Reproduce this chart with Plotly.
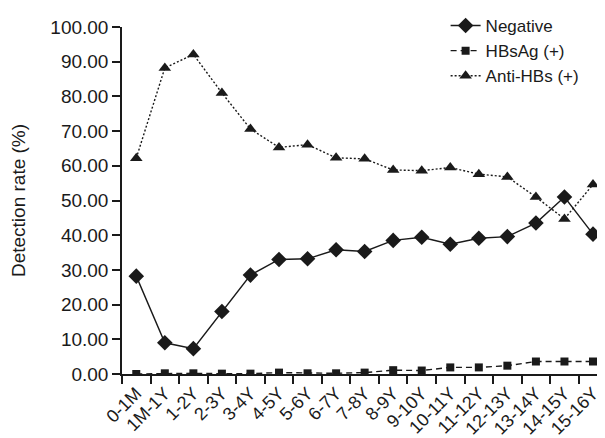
import plotly.graph_objects as go

categories = ["0-1M", "1M-1Y", "1-2Y", "2-3Y", "3-4Y", "4-5Y", "5-6Y", "6-7Y", "7-8Y",
              "8-9Y", "9-10Y", "10-11Y", "11-12Y", "12-13Y", "13-14Y", "14-15Y", "15-16Y"]
negative = [28.2, 9.0, 7.3, 18.0, 28.5, 33.0, 33.2, 35.8, 35.3, 38.5, 39.4, 37.4, 39.1, 39.6, 43.5, 51.0, 40.3]
hbsag = [0.0, 0.2, 0.2, 0.1, 0.1, 0.4, 0.2, 0.2, 0.4, 1.1, 1.0, 1.9, 1.9, 2.4, 3.6, 3.6, 3.6]
anti_hbs = [62.2, 88.2, 92.1, 81.0, 70.6, 65.3, 66.1, 62.3, 62.0, 58.8, 58.6, 59.5, 57.6, 56.8, 51.0, 44.7, 54.6]
y_ticks = [0, 10, 20, 30, 40, 50, 60, 70, 80, 90, 100]

INK = "#1a1a1a"
FONT = "Liberation Sans, Arial, sans-serif"

fig = go.Figure()
fig.add_trace(go.Scatter(x=categories, y=negative, name="Negative", mode="lines+markers",
                         line=dict(color=INK, width=1.4, dash="solid"),
                         marker=dict(symbol="diamond", size=12, color=INK)))
fig.add_trace(go.Scatter(x=categories, y=hbsag, name="HBsAg (+)", mode="lines+markers",
                         line=dict(color=INK, width=1.4, dash="6px,4px"),
                         marker=dict(symbol="square", size=8, color=INK)))
fig.add_trace(go.Scatter(x=categories, y=anti_hbs, name="Anti-HBs (+)", mode="lines+markers",
                         line=dict(color=INK, width=1.4, dash="2px,2px"),
                         marker=dict(symbol="triangle-up", size=11, color=INK)))

# The page adds an 8px body margin, so the figure is sized/offset to compensate.
fig.update_layout(
    width=597, height=430,
    margin=dict(l=114, r=0, t=15, b=64),
    paper_bgcolor="white", plot_bgcolor="white",
    font=dict(family=FONT, size=19, color=INK),
    showlegend=True,
    legend=dict(x=0.67, y=1.055, xanchor="left", yanchor="top",
                bgcolor="rgba(0,0,0,0)", font=dict(size=17), tracegroupgap=0),
    xaxis=dict(type="category", range=[-0.5, 16.42], tickson="boundaries",
               automargin=False,
               showline=True, linecolor=INK, linewidth=1.5,
               ticks="outside", ticklen=8, tickcolor=INK, tickwidth=1.5,
               tickangle=-45, showgrid=False, zeroline=False,
               tickfont=dict(size=18)),
    yaxis=dict(range=[0, 100], tickvals=y_ticks, tickformat=".2f",
               automargin=False,
               showline=True, linecolor=INK, linewidth=1.5,
               ticks="outside", ticklen=8, tickcolor=INK, tickwidth=1.5,
               showgrid=False, zeroline=False,
               title=dict(text="Detection rate (%)", font=dict(size=19), standoff=29),
               tickfont=dict(size=19)),
)

fig.write_html("out.html")
